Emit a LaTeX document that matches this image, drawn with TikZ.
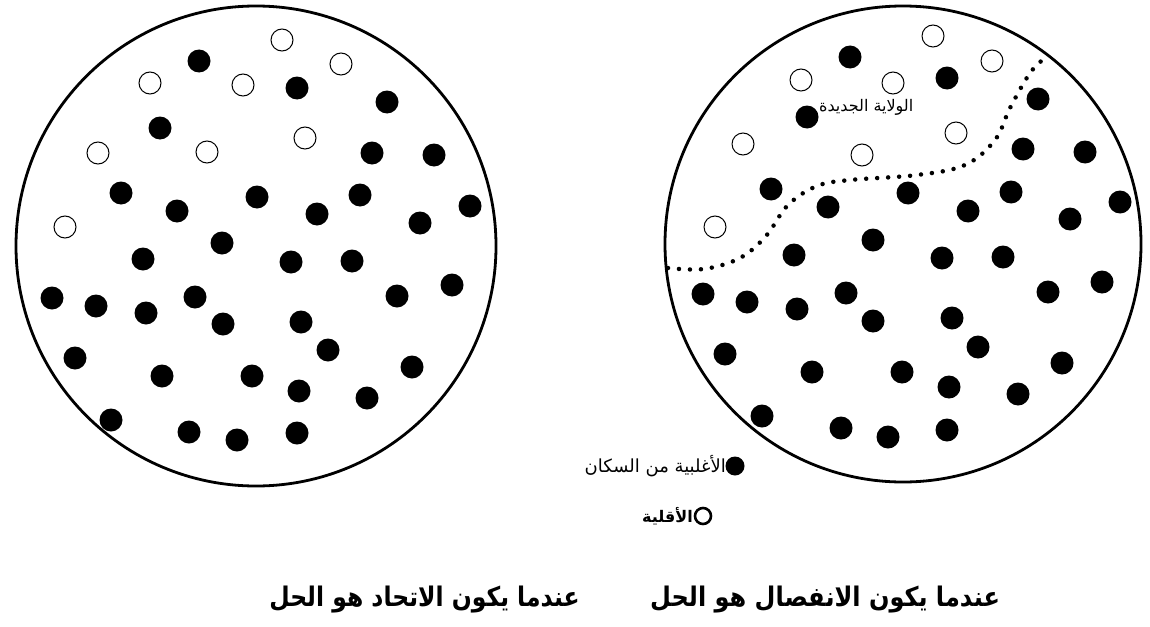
\documentclass[tikz,border=0pt]{standalone}
\usepackage{fontspec}
\usepackage{graphicx}
\newfontfamily\arabicfont[Script=Arabic]{DejaVu Sans}
\TeXXeTstate=1
\begin{document}
\begin{tikzpicture}[x=1pt,y=-1pt,
  bigcircle/.style={circle,draw=black,line width=2.8pt,inner sep=0pt,minimum size=#1},
  maj/.style={circle,fill=black,inner sep=0pt,minimum size=23pt},
  mino/.style={circle,draw=black,line width=1pt,fill=white,inner sep=0pt,minimum size=22pt},
  legmaj/.style={circle,fill=black,inner sep=0pt,minimum size=19pt},
  legmin/.style={circle,draw=black,line width=2.6pt,inner sep=0pt,minimum size=16pt},
  dotline/.style={line width=4.5pt,dash pattern=on 0pt off 11pt,line cap=round},
  title/.style={font=\arabicfont\bfseries\fontsize{27}{32}\selectfont,inner sep=0pt},
  legtext/.style={font=\arabicfont\fontsize{18}{21}\selectfont,inner sep=0pt},
  regtext/.style={font=\arabicfont\fontsize{16}{19}\selectfont,inner sep=0pt}]
\useasboundingbox (0,0) rectangle (1150,626);
% circles
\node[bigcircle=480pt] (LC) at (256,246) {};
\node[bigcircle=476pt] (RC) at (903,244) {};
% left circle: minority
\foreach [count=\i] \p in {(282,40),(341,64),(150,83),(243,85),(305,138),(98,153),(207,152),(65,227)}
  \node[mino] (lm\i) at \p {};
% left circle: majority
\foreach [count=\i] \p in {(199,61),(297,88),(387,102),(160,128),(372,153),(434,155),(121,193),(177,211),(257,197),(317,214),(360,195),(470,206),(420,223),(222,243),(143,259),(291,262),(352,261),(52,298),(96,306),(146,313),(195,297),(223,324),(301,322),(397,296),(452,285),(75,358),(328,350),(162,376),(252,376),(299,391),(367,398),(412,367),(111,420),(189,432),(237,440),(297,433)}
  \node[maj] (lM\i) at \p {};
% right circle: minority
\foreach [count=\i] \p in {(933,36),(992,61),(801,80),(893,83),(956,133),(743,144),(862,155),(715,227)}
  \node[mino] (rm\i) at \p {};
% right circle: majority
\foreach [count=\i] \p in {(850,57),(947,78),(1038,99),(807,117),(1023,149),(1085,152),(771,189),(828,207),(908,193),(968,211),(1011,192),(1120,202),(1070,219),(873,240),(794,255),(942,258),(1003,257),(703,294),(747,302),(797,309),(846,293),(873,321),(952,318),(1048,292),(1102,282),(725,354),(978,347),(812,372),(902,372),(949,387),(1018,394),(1062,363),(762,416),(841,428),(888,437),(947,430)}
  \node[maj] (rM\i) at \p {};
% border of the new state
\coordinate (b0) at (668,268);
\coordinate (b1) at (1045,58);
\draw[dotline] plot[smooth,tension=0.6] coordinates {(b0) (704,269) (740,258) (766,236) (788,205) (817,186) (850,180) (917,175) (965,165) (995,140) (1010,108) (1030,73) (b1)};
\node[regtext,anchor=west] (newstate) at (819,107) {\arabicfont\beginR الولاية الجديدة\endR};
% legend
\node[legmaj] (kmaj) at (735,466) {};
\node[legtext,anchor=east] (tmaj) at (726,466) {\arabicfont\beginR الأغلبية من السكان\endR};
\node[legmin] (kmin) at (703,516) {};
\node[legtext,font=\arabicfont\bfseries\fontsize{16}{19}\selectfont,anchor=east] (tmin) at (693,516) {\arabicfont\beginR الأقلية\endR};
% titles
\node[title,anchor=east] (tleft) at (580,600) {\scalebox{0.87}[1]{\arabicfont\bfseries\beginR عندما يكون الاتحاد هو الحل\endR}};
\node[title,anchor=west] (tright) at (650,600) {\scalebox{0.89}[1]{\arabicfont\bfseries\beginR عندما يكون الانفصال هو الحل\endR}};
\end{tikzpicture}
\end{document}
